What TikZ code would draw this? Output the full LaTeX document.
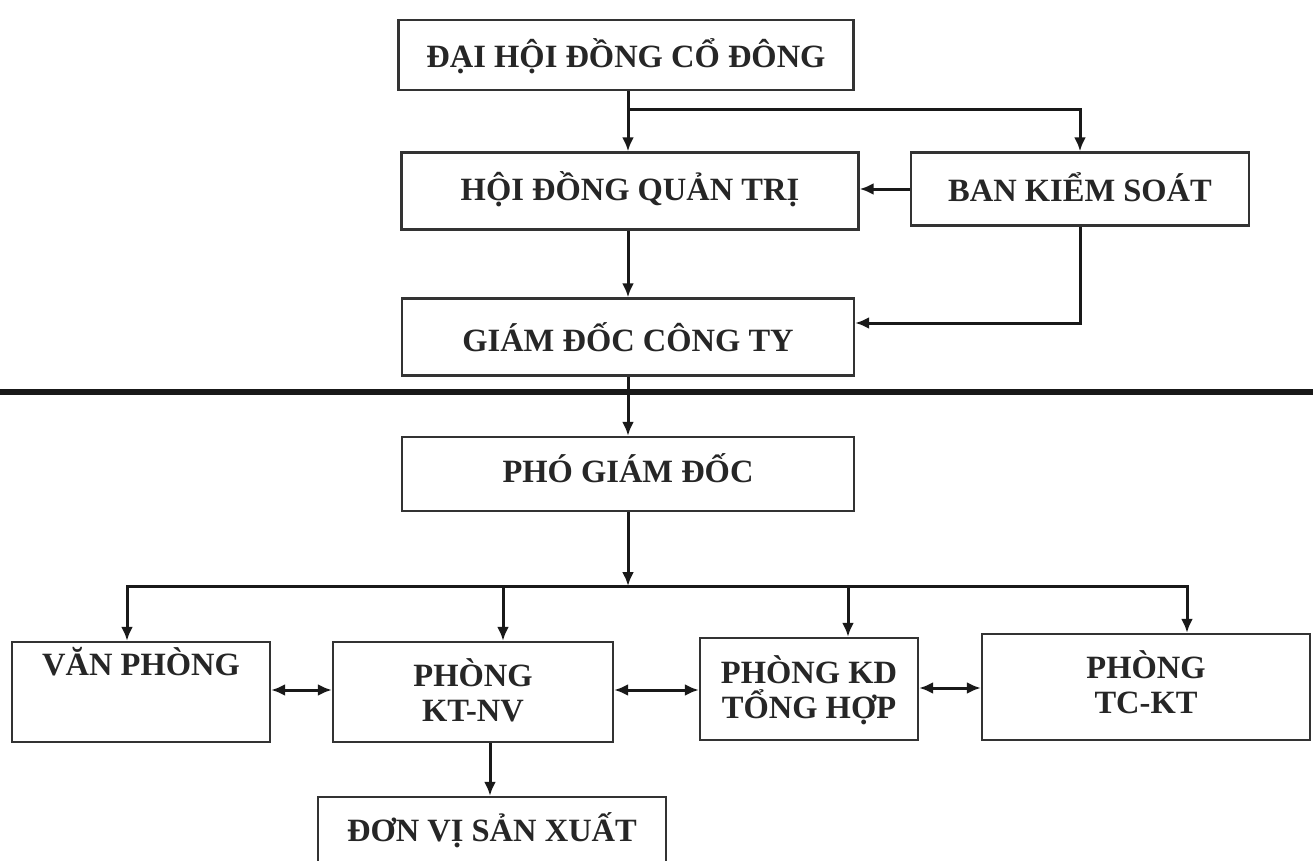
\documentclass[tikz,border=0pt]{standalone}
\usepackage{fontspec}
\setmainfont{Liberation Serif}
\usetikzlibrary{arrows.meta}
\begin{document}
\begin{tikzpicture}[x=1pt,y=-1pt,
  box/.style={draw=black!80,line width=2.4pt,inner sep=0pt},
  lbl/.style={font=\fontsize{32.5}{35}\selectfont\bfseries,text=black!85,align=center,inner sep=0pt},
  arr/.style={draw=black!90,line width=3pt,-{Latex[length=14pt,width=12pt]}},
  darr/.style={draw=black!90,line width=3pt,{Latex[length=14pt,width=12pt]}-{Latex[length=14pt,width=12pt]}},
  sepline/.style={draw=black!90,line width=6pt}]
\useasboundingbox (0,0) rectangle (1313,861);
\fill[white] (0,0) rectangle (1313,861);
\clip (0,0) rectangle (1313,861);

% boxes
\node[box,minimum width=455pt,minimum height=70pt] (dh) at (626,55) {};
\node[box,minimum width=457pt,minimum height=77pt] (hd) at (630,191) {};
\node[box,minimum width=338pt,minimum height=73pt] (bks) at (1080,189) {};
\node[box,minimum width=452pt,minimum height=77pt] (gd) at (628,337) {};
\node[box,minimum width=452pt,minimum height=74pt] (pgd) at (628,474) {};
\node[box,minimum width=258pt,minimum height=100pt] (vp) at (141,692) {};
\node[box,minimum width=280pt,minimum height=100pt] (ktnv) at (473,692) {};
\node[box,minimum width=218pt,minimum height=102pt] (kd) at (809,689) {};
\node[box,minimum width=328pt,minimum height=106pt] (tckt) at (1146,687) {};
\node[box,minimum width=348pt,minimum height=90pt] (dv) at (492,842) {};

% labels
\node[lbl] (dht) at (626,56) {ĐẠI HỘI ĐỒNG CỔ ĐÔNG};
\node[lbl] (hdt) at (630,189) {HỘI ĐỒNG QUẢN TRỊ};
\node[lbl] (bkst) at (1080,187) {BAN KIỂM SOÁT};
\node[lbl] (gdt) at (628,337) {GIÁM ĐỐC CÔNG TY};
\node[lbl] (pgdt) at (628,468) {PHÓ GIÁM ĐỐC};
\node[lbl] (vpt) at (141,662) {VĂN PHÒNG};
\node[lbl] (ktnvt) at (473,690) {PHÒNG\\KT-NV};
\node[lbl] (kdt) at (809,690) {PHÒNG KD\\TỔNG HỢP};
\node[lbl] (tckt-t) at (1146,682) {PHÒNG\\TC-KT};
\node[lbl] (dvt) at (492,830) {ĐƠN VỊ SẢN XUẤT};

% connectors (upper part)
\coordinate (j1) at (628,110);
\draw[arr] (dh.south -| j1) -- (hd.north -| j1);
\draw[arr] (j1) -| (bks.north);
\draw[arr] (bks.west) -- (bks.west -| hd.east);
\draw[arr] (hd.south -| j1) -- (gd.north -| j1);
\coordinate (j2) at (1080,323);
\draw[arr] (bks.south) |- (gd.east |- j2);

% separator
\coordinate (sl) at (0,392);
\coordinate (sr) at (1313,392);
\draw[sepline] (sl) -- (sr);

% connectors (lower part)
\draw[arr] (gd.south -| j1) -- (pgd.north -| j1);
\coordinate (j3) at (628,586);
\draw[arr] (pgd.south -| j3) -- (j3);
\coordinate (bl) at (127,586);
\coordinate (b2) at (503,586);
\coordinate (b3) at (848,586);
\coordinate (br) at (1187,586);
\draw[arr] (j3) -- (bl) -- (bl |- vp.north);
\draw[arr] (j3) -- (br) -- (br |- tckt.north);
\draw[arr] (b2) -- (b2 |- ktnv.north);
\draw[arr] (b3) -- (b3 |- kd.north);

\coordinate (h1) at (0,690);
\coordinate (h2) at (0,688);
\draw[darr] (vp.east |- h1) -- (ktnv.west |- h1);
\draw[darr] (ktnv.east |- h1) -- (kd.west |- h1);
\draw[darr] (kd.east |- h2) -- (tckt.west |- h2);

\coordinate (v1) at (490,0);
\draw[arr] (ktnv.south -| v1) -- (dv.north -| v1);
\end{tikzpicture}
\end{document}
